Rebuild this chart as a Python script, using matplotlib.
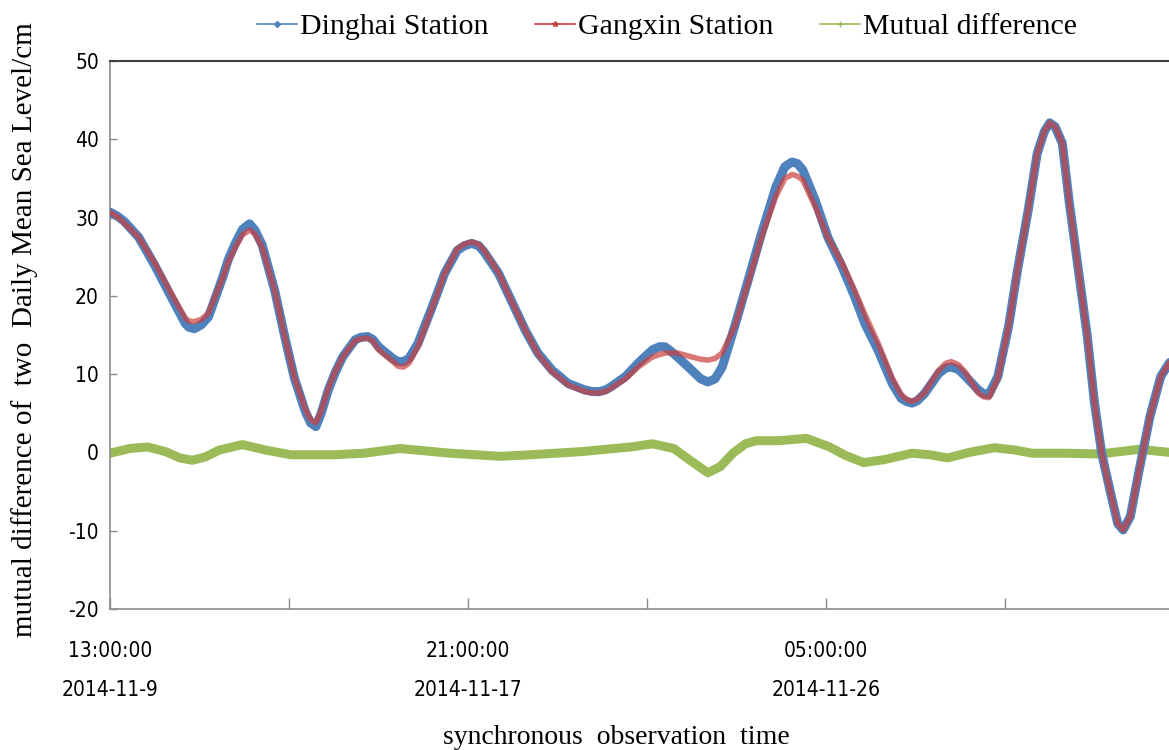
import matplotlib
matplotlib.use("Agg")
import matplotlib.pyplot as plt
from matplotlib.lines import Line2D

# ---- data (hours since 2014-11-9 13:00:00) ----
hours_d = [0, 4, 8, 16, 25, 30, 35, 42, 44, 47, 51, 55, 63, 66, 70, 74, 78, 81, 85,
           92, 98, 103, 109, 112, 115, 118, 122, 126, 130, 137, 140, 144, 147, 150,
           158, 161, 164, 167, 172, 180, 187, 194, 198, 202, 206, 209, 217, 225,
           232, 239, 247, 256, 265, 269, 273, 277, 280, 288, 295, 303, 307, 310,
           313, 317, 325, 330, 334, 338, 342, 349, 356, 364, 372, 377, 381, 384,
           387, 394, 401, 409, 416, 422, 429, 437, 442, 445, 448, 451, 455, 463,
           467, 470, 474, 478, 485, 488, 491, 496, 502, 507, 513, 518, 522, 525,
           528, 532, 536, 541, 546, 550, 554, 559, 563, 566, 570, 575, 581, 587,
           592]
dinghai = [30.7, 30.2, 29.5, 27.5, 23.9, 21.7, 19.5, 16.5, 16.0, 15.8, 16.3, 17.3,
           22.4, 24.6, 26.7, 28.5, 29.2, 28.4, 26.5, 20.7, 14.4, 9.5, 5.3, 3.8, 3.3,
           5.0, 8.0, 10.3, 12.2, 14.4, 14.7, 14.8, 14.4, 13.5, 12.0, 11.6, 11.6,
           12.0, 13.9, 18.6, 22.9, 25.8, 26.4, 26.7, 26.4, 25.6, 22.9, 19.0, 15.6,
           12.7, 10.5, 8.8, 8.0, 7.8, 7.75, 8.0, 8.4, 9.7, 11.4, 13.1, 13.5, 13.5,
           13.0, 12.2, 10.5, 9.4, 9.0, 9.4, 10.9, 16.1, 21.6, 28.0, 33.9, 36.5,
           37.1, 36.9, 36.1, 32.2, 27.5, 23.7, 19.9, 16.3, 13.1, 8.8, 6.9, 6.5, 6.3,
           6.6, 7.5, 10.1, 10.8, 10.9, 10.6, 9.7, 8.0, 7.5, 7.4, 9.7, 16.1, 23.3,
           31.0, 38.2, 41.0, 42.1, 41.6, 39.5, 31.8, 23.3, 14.8, 6.3, -0.1, -5.2,
           -9.1, -9.9, -8.2, -2.2, 4.6, 9.7, 11.5]
gangxin = [30.7, 30.1, 29.3, 27.5, 24.2, 22.1, 20.0, 17.2, 16.8, 16.7, 17.0, 17.8,
           22.3, 24.3, 26.2, 27.8, 28.4, 27.9, 26.2, 20.7, 14.4, 9.6, 5.6, 4.2, 3.8,
           5.3, 8.2, 10.4, 12.2, 14.3, 14.5, 14.6, 14.2, 13.1, 11.6, 11.0, 10.9,
           11.4, 13.5, 18.5, 22.9, 26.0, 26.6, 26.9, 26.6, 25.8, 23.0, 19.0, 15.6,
           12.6, 10.3, 8.6, 7.8, 7.6, 7.6, 7.8, 8.2, 9.4, 10.9, 12.2, 12.5, 12.7,
           12.7, 12.7, 12.2, 11.9, 11.8, 12.0, 12.7, 16.1, 21.3, 27.5, 32.7, 35.0,
           35.5, 35.3, 34.8, 31.4, 27.5, 24.2, 20.7, 17.5, 14.0, 9.5, 7.4, 6.8, 6.5,
           6.8, 7.6, 10.5, 11.4, 11.6, 11.2, 10.2, 7.6, 7.1, 7.0, 9.5, 16.1, 23.3,
           31.0, 38.2, 41.0, 42.1, 41.6, 39.5, 31.8, 23.3, 14.8, 6.3, -0.1, -5.2,
           -9.1, -9.9, -8.2, -2.2, 4.6, 9.7, 11.5]
hours_m = [0, 11, 21, 31, 39, 46, 53, 61, 74, 87, 101, 125, 142, 162, 190, 218, 235,
           263, 291, 303, 315, 324, 334, 341, 348, 355, 361, 374, 389, 402, 411, 421,
           433, 448, 458, 468, 480, 494, 506, 515, 533, 553, 575, 592]
mutual = [-0.1, 0.5, 0.7, 0.1, -0.7, -1.0, -0.6, 0.3, 1.0, 0.3, -0.3, -0.3, -0.1,
          0.5, -0.1, -0.5, -0.3, 0.1, 0.7, 1.1, 0.5, -1.0, -2.6, -1.8, -0.1, 1.1, 1.5,
          1.5, 1.8, 0.7, -0.4, -1.3, -0.9, -0.1, -0.3, -0.7, 0.0, 0.6, 0.3, -0.1, -0.1,
          -0.2, 0.4, 0.0]

tick_pos = [0, 100, 200, 300, 400, 500]
tick_labels = ["13:00:00\n2014-11-9", "", "21:00:00\n2014-11-17", "",
               "05:00:00\n2014-11-26", ""]
y_ticks = [-20, -10, 0, 10, 20, 30, 40, 50]

C_BLUE = "#4F81BD"
C_RED = "#C8403D"
C_GREEN = "#9BBB59"
SERIF = ["Liberation Serif", "DejaVu Serif"]
SANS = ["DejaVu Sans"]

W, H = 1169, 750
fig = plt.figure(figsize=(W / 100, H / 100), dpi=100)
fig.patch.set_facecolor("white")

x_end = 600
left_px, top_px, bot_px = 110, 61, 609
right_px = left_px + x_end * 1.79
ax = fig.add_axes([left_px / W, 1 - bot_px / H, (right_px - left_px) / W,
                   (bot_px - top_px) / H])

style = dict(solid_capstyle="round", solid_joinstyle="round")
ax.plot(hours_m, mutual, color=C_GREEN, lw=6.5, zorder=2, **style)
ax.plot(hours_d, dinghai, color=C_BLUE, lw=6.5, zorder=3, **style)
ax.plot(hours_d, gangxin, color=C_RED, lw=4.0, alpha=0.7, zorder=4, **style)

ax.set_xlim(0, x_end)
ax.set_ylim(-20, 50)
ax.set_yticks(y_ticks)
ax.set_yticklabels([str(v) for v in y_ticks], fontfamily=SANS, fontsize=15,
                   fontstretch="condensed")
ax.set_xticks(tick_pos)
ax.set_xticklabels(tick_labels, fontfamily=SANS, fontsize=15,
                   fontstretch="condensed")
for lab in ax.get_xticklabels():
    lab.set_linespacing(2.2)
ax.tick_params(axis="x", direction="in", length=8, width=1, color="#8c8c8c", pad=23)
ax.tick_params(axis="y", direction="in", length=5, width=1, color="#8c8c8c", pad=8)

for s in ["left", "bottom"]:
    ax.spines[s].set_color("#8c8c8c")
    ax.spines[s].set_linewidth(1.2)
ax.spines["top"].set_color("#404040")
ax.spines["top"].set_linewidth(1.5)
ax.spines["right"].set_visible(False)

fig.text(25 / W, 1 - 330 / H, "mutual difference of  two  Daily Mean Sea Level/cm",
         rotation=90, ha="center", va="center", fontfamily=SERIF, fontsize=21)
fig.text(616 / W, 1 - 738 / H, "synchronous  observation  time",
         ha="center", va="center", fontfamily=SERIF, fontsize=20)

handles = [
    Line2D([], [], color=C_BLUE, lw=1.2, marker="D", markersize=3),
    Line2D([], [], color=C_RED, lw=1.2, marker="*", markersize=4),
    Line2D([], [], color=C_GREEN, lw=1.2, marker="+", markersize=4),
]
leg = fig.legend(handles, ["Dinghai Station", "Gangxin Station", "Mutual difference"],
                 ncol=3, loc="center", bbox_to_anchor=(667 / W, 1 - 27 / H),
                 frameon=False, handlelength=1.35, handletextpad=0.1,
                 columnspacing=1.55, prop={"family": SERIF, "size": 21.5})

fig.savefig("out.png", dpi=100)
